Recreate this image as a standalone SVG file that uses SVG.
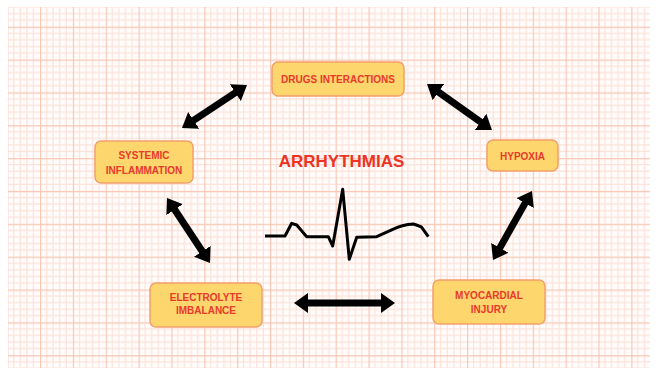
<svg xmlns="http://www.w3.org/2000/svg" width="658" height="375" viewBox="0 0 658 375">
<style>
.box{fill:#FED66E;stroke:#F3A06C;stroke-width:1.5}
.lbl{font-family:"Liberation Sans",Arial,sans-serif;font-weight:bold;font-size:10px;fill:#E8392B;text-anchor:middle}
.arr{stroke:#000;stroke-width:7;fill:none;marker-start:url(#ah);marker-end:url(#ah)}
</style>
<defs>
<pattern id="grid" patternUnits="userSpaceOnUse" x="40" y="26.7" width="32.85" height="32.85">
<rect width="32.85" height="32.85" fill="#FFFCFB"/>
<path d="M6.57,0V32.85M13.14,0V32.85M19.71,0V32.85M26.28,0V32.85M0,6.57H32.85M0,13.14H32.85M0,19.71H32.85M0,26.28H32.85" stroke="#FCE3DA" stroke-width="1.2"/>
<path d="M0,0V32.85M0,0H32.85" stroke="#F8C7B5" stroke-width="2.4"/>
</pattern>
<marker id="ah" markerUnits="userSpaceOnUse" viewBox="0 0 14 20" markerWidth="14" markerHeight="20" refX="2" refY="10" orient="auto-start-reverse">
<path d="M0,0L14,10L0,20Z" fill="#000"/>
</marker>
</defs>
<rect width="658" height="375" fill="#fff"/>
<rect x="8" y="7" width="642" height="361" fill="url(#grid)"/>
<g id="connectors">
<line class="arr" x1="192" y1="121.4" x2="237" y2="91.6"/>
<line class="arr" x1="436.8" y1="90.9" x2="482.2" y2="123.1"/>
<line class="arr" x1="173.6" y1="208" x2="203.4" y2="253"/>
<line class="arr" x1="526.1" y1="201.4" x2="498.9" y2="249.6"/>
<line class="arr" x1="306" y1="303" x2="383" y2="303"/>
</g>
<g id="drugs"><rect class="box" x="272" y="62" width="132" height="34" rx="6"/><text class="lbl" x="338" y="82.5">DRUGS INTERACTIONS</text></g>
<g id="systemic"><rect class="box" x="95" y="141" width="98" height="42" rx="6"/><text class="lbl" x="144" y="159">SYSTEMIC</text><text class="lbl" x="144" y="174">INFLAMMATION</text></g>
<g id="hypoxia"><rect class="box" x="487" y="140" width="71" height="31" rx="6"/><text class="lbl" x="522.5" y="159.5">HYPOXIA</text></g>
<g id="electrolyte"><rect class="box" x="150" y="283" width="112" height="44" rx="6"/><text class="lbl" x="206" y="300.5">ELECTROLYTE</text><text class="lbl" x="206" y="313.5">IMBALANCE</text></g>
<g id="myocardial"><rect class="box" x="433" y="280" width="112" height="44" rx="6"/><text class="lbl" x="489" y="299">MYOCARDIAL</text><text class="lbl" x="489" y="312.5">INJURY</text></g>
<g id="center">
<text x="341.5" y="167" font-family="'Liberation Sans',Arial,sans-serif" font-weight="bold" font-size="17" fill="#EE3224" text-anchor="middle">ARRHYTHMIAS</text>
<path d="M265,236L285,236L291.7,223.3L296.7,225L306.7,236.7L328.3,236.7L332.7,246L342.7,189.3L349.3,259.3L356.7,237.3L376.7,236.7L390,230.7Q403,224 413.3,224Q420,226 421.7,227.3L428.3,236.7" fill="none" stroke="#000" stroke-width="3" stroke-linejoin="round"/>
</g>
</svg>
